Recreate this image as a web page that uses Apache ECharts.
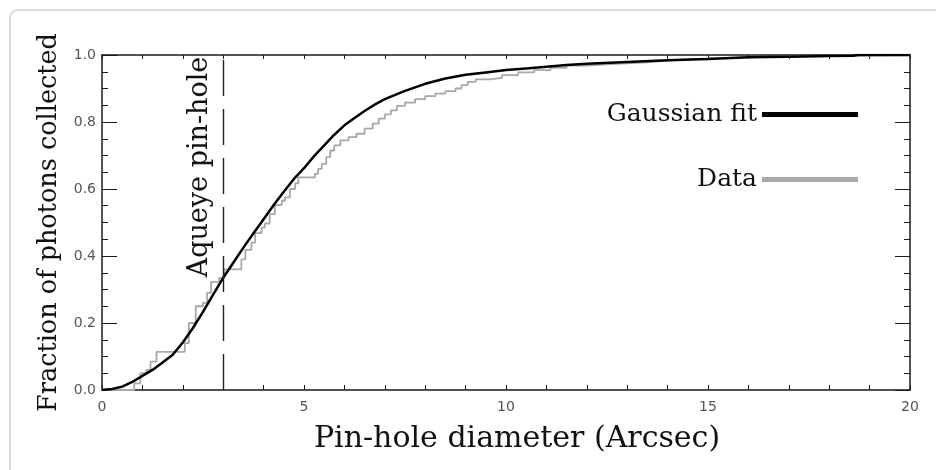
<!DOCTYPE html>
<html><head><meta charset="utf-8">
<script src="https://cdn.jsdelivr.net/npm/echarts@6/dist/echarts.min.js"></script>
<style>html,body{margin:0;padding:0;background:#fff}#c{width:936px;height:470px}</style>
</head><body><div id="c"></div>
<script>
// Gaussian fit (cumulative fraction vs pin-hole diameter)
const fitX = [0, 0.25, 0.5, 0.75, 1.0, 1.25, 1.5, 1.75, 2.0, 2.25, 2.5, 2.75, 3.0, 3.25, 3.5, 3.75, 4.0, 4.25, 4.5, 4.75, 5.0, 5.25, 5.5, 5.75, 6.0, 6.25, 6.5, 6.75, 7.0, 7.5, 8.0, 8.5, 9.0, 9.5, 10, 10.5, 11, 11.5, 12, 13, 14, 15, 16, 17, 18, 18.6, 18.7, 20];
const fitY = [0, 0.003, 0.01, 0.024, 0.042, 0.06, 0.082, 0.105, 0.142, 0.185, 0.233, 0.285, 0.335, 0.38, 0.425, 0.468, 0.51, 0.552, 0.592, 0.63, 0.662, 0.698, 0.73, 0.762, 0.79, 0.812, 0.833, 0.852, 0.868, 0.893, 0.914, 0.93, 0.941, 0.948, 0.955, 0.96, 0.965, 0.97, 0.974, 0.979, 0.984, 0.988, 0.993, 0.995, 0.997, 0.998, 1.0, 1.0];
// Measured data (empirical, stepwise)
const dataX = [0, 0.8, 0.95, 1.1, 1.2, 1.35, 2.05, 2.15, 2.32, 2.5, 2.6, 2.7, 2.9, 3.02, 3.45, 3.55, 3.7, 3.79, 3.95, 4.03, 4.15, 4.28, 4.45, 4.53, 4.65, 4.78, 4.86, 5.27, 5.35, 5.44, 5.55, 5.65, 5.75, 5.9, 6.1, 6.3, 6.5, 6.7, 6.85, 7.0, 7.15, 7.3, 7.5, 7.75, 8.0, 8.25, 8.5, 8.75, 8.9, 9.05, 9.25, 9.6, 9.9, 10.3, 10.7, 11.1, 11.5, 12.0, 12.5, 13.0, 13.5, 14.0, 14.5, 15.0, 16.0, 17.0, 18.0, 19.0, 20.0];
const dataY = [0, 0.02, 0.05, 0.06, 0.085, 0.114, 0.14, 0.2, 0.25, 0.26, 0.29, 0.323, 0.335, 0.36, 0.39, 0.418, 0.44, 0.468, 0.485, 0.497, 0.525, 0.552, 0.565, 0.575, 0.6, 0.617, 0.635, 0.645, 0.66, 0.675, 0.695, 0.715, 0.73, 0.745, 0.755, 0.765, 0.78, 0.795, 0.81, 0.823, 0.835, 0.848, 0.858, 0.868, 0.877, 0.885, 0.892, 0.9, 0.91, 0.92, 0.927, 0.932, 0.94, 0.948, 0.955, 0.962, 0.968, 0.972, 0.975, 0.978, 0.983, 0.987, 0.99, 0.993, 0.995, 0.997, 0.998, 1.0, 1.0];
const pinholeX = 3;
const xTickLabels = ['0', '5', '10', '15', '20'];
const yTickLabels = ['0.0', '0.2', '0.4', '0.6', '0.8', '1.0'];
const seriesNames = ['Gaussian fit', 'Data'];
const xTitle = 'Pin-hole diameter (Arcsec)';
const yTitle = 'Fraction of photons collected';
const pinholeLabel = 'Aqueye pin-hole';

const chart = echarts.init(document.getElementById('c'), null, {renderer: 'canvas'});
const serif = 'DejaVu Serif';
const tickFont = {fontFamily: 'DejaVu Sans', fontSize: 14, color: '#555'};
const axisCol = '#1a1a1a';

function frameX(pos, len, labels) {
  return {
    type: 'value', min: 0, max: 20, interval: 1, position: pos,
    axisLine: {show: true, onZero: false, lineStyle: {color: axisCol, width: 1.5}},
    axisTick: {show: true, inside: true, length: len, lineStyle: {color: axisCol}},
    splitLine: {show: false},
    axisLabel: labels ? Object.assign({margin: 10, formatter: v => (v % 5 === 0 ? xTickLabels[v / 5] : '')}, tickFont) : {show: false}
  };
}
function frameY(pos, interval, len, showLine) {
  return {
    type: 'value', min: 0, max: 1, interval: interval, position: pos, offset: 0,
    axisLine: {show: showLine, onZero: false, lineStyle: {color: axisCol, width: 1.5}},
    axisTick: {show: true, inside: true, length: len, lineStyle: {color: axisCol}},
    splitLine: {show: false},
    axisLabel: {show: false}
  };
}

const xMain = frameX('bottom', 5, true);
Object.assign(xMain, {
  name: xTitle, nameLocation: 'middle', nameGap: 34,
  nameTextStyle: {fontFamily: serif, fontSize: 30, color: '#111', padding: [0, 0, 0, 22]}
});
const yMain = frameY('left', 0.2, 15, true);
Object.assign(yMain, {
  name: yTitle, nameLocation: 'middle', nameGap: 38,
  nameTextStyle: {fontFamily: serif, fontSize: 25.5, color: '#111'},
  axisLabel: Object.assign({show: true, margin: 6, formatter: v => yTickLabels[Math.round(v * 5)] || ''}, tickFont)
});

chart.setOption({
  backgroundColor: '#fff',
  animation: false,
  grid: {left: 102, right: 26, top: 55, bottom: 80},
  legend: {
    orient: 'vertical', align: 'right', right: 78, top: 102, padding: 0,
    itemWidth: 96, itemHeight: 5, itemGap: 40, icon: 'rect',
    textStyle: {fontFamily: serif, fontSize: 25, color: '#111'},
    data: seriesNames
  },
  xAxis: [xMain, frameX('top', 4, false)],
  yAxis: [yMain, frameY('left', 0.05, 6, false), frameY('right', 0.2, 15, true), frameY('right', 0.05, 6, false)],
  series: [{
    name: seriesNames[0], type: 'line', showSymbol: false, z: 3,
    color: '#000',
    lineStyle: {color: '#000', width: 2.5},
    data: fitX.map((x, i) => [x, fitY[i]])
  }, {
    name: seriesNames[1], type: 'line', showSymbol: false, step: 'end', z: 2,
    color: '#a8a8a8',
    lineStyle: {color: '#a8a8a8', width: 1.8},
    data: dataX.map((x, i) => [x, dataY[i]]),
    markLine: {
      silent: true, symbol: 'none', label: {show: false},
      lineStyle: {color: '#222', width: 1.4, type: [36, 13]},
      data: [{xAxis: pinholeX}]
    }
  },
  {type: 'line', xAxisIndex: 1, yAxisIndex: 1, data: [], silent: true},
  {type: 'line', xAxisIndex: 1, yAxisIndex: 2, data: [], silent: true},
  {type: 'line', xAxisIndex: 1, yAxisIndex: 3, data: [], silent: true}],
  graphic: [{
    type: 'rect', silent: true, z: -10,
    shape: {x: 10, y: 10, width: 940, height: 480, r: 8},
    style: {fill: 'none', stroke: '#d9d9d9', lineWidth: 2}
  }, {
    type: 'text', silent: true,
    x: 200, y: 167, rotation: Math.PI / 2,
    style: {text: pinholeLabel, fontFamily: serif, fontSize: 27, fill: '#111', align: 'center', verticalAlign: 'middle'}
  }]
});
</script></body></html>
